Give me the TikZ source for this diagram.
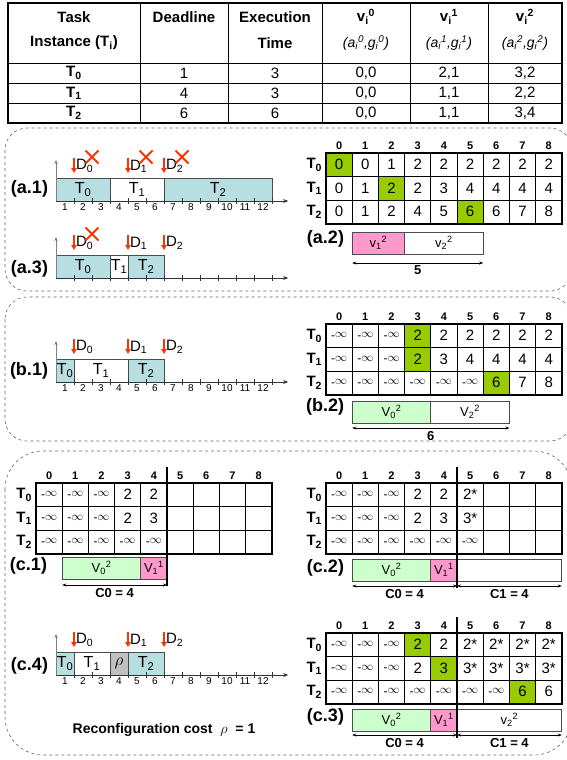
\documentclass[tikz,border=0pt]{standalone}
\usepackage{fontspec}
\setmainfont{Liberation Sans}
\usepackage{xcolor}
\usepackage{tikz}
\usetikzlibrary{arrows.meta,positioning,calc}
\definecolor{taskteal}{HTML}{B7DEE0}
\definecolor{hitgreen}{HTML}{99CC00}
\definecolor{vgreen}{HTML}{CCFFCC}
\definecolor{vpink}{HTML}{FF99CC}
\definecolor{dlred}{HTML}{FF3300}
\definecolor{rhogray}{HTML}{C0C0C0}
\definecolor{framegray}{HTML}{666666}

\newcommand{\fsz}[1]{\fontsize{#1}{#1}\selectfont}
\newcommand{\cellw}{26.2}
\newcommand{\cellh}{23.5}
\newcommand{\ninf}{{\fsz{12}\raisebox{-1.5pt}{-}$\infty$}}
\newcommand{\vsub}[3]{#1\textsubscript{#2}\textsuperscript{#3}}

% schedule helpers (used inside a scope with x = one time unit)
\newcommand{\taskbox}[5]{\node[taskbar, fill=#4, minimum width={(#3-#2)*18pt}, anchor=south west] (#1) at (#2,0) {#5};}
\newcommand{\timeaxes}{%
  \draw[xaxis] (0,0) -- (12.9,0);
  \draw[yaxis] (0,0) -- (0,-41);
  \foreach \k in {1,...,12} \draw[tick] (\k,-3) -- (\k,3);}
\newcommand{\ticklabels}[1]{\foreach \k in {1,...,12} \node[ticklab] (#1k\k) at (\k-0.5,3) {\k};}
\newcommand{\deadline}[3]{%
  \coordinate (#1) at (#2,-28);
  \draw[dlarrow] ([yshift=15pt]#1) -- (#1);
  \node[dlabel] (#1l) at ([xshift=2pt,yshift=7pt]#1) {#3};}
\newcommand{\missed}[1]{\draw[miss] ([xshift=18pt,yshift=16pt]#1) +(-6.5pt,-6.5pt) -- +(6.5pt,6.5pt) +(-6.5pt,6.5pt) -- +(6.5pt,-6.5pt);}

% table helpers
\newcommand{\hit}[4]{\fill[hitgreen] ({#1+#3*\cellw},{#2+#4*\cellh}) rectangle ++(\cellw,\cellh);}
\newcommand{\dpgrid}[3]{%
  \foreach \cc in {0,...,8}
    \node[colnum] (#1h\cc) at ({#2+(\cc+0.5)*\cellw},#3-7) {\cc};
  \foreach \rr in {0,1,2}
    \node[rowlab] (#1t\rr) at (#2-4,{#3+(\rr+0.5)*\cellh}) {T\textsubscript{\rr}};
  \foreach \cc in {1,...,8}
    \draw[gridline] ({#2+\cc*\cellw},#3) -- ++(0,{3*\cellh});
  \foreach \rr in {1,2}
    \draw[gridline] (#2,{#3+\rr*\cellh}) -- ++({9*\cellw},0);
  \draw[gridframe] (#2,#3) rectangle ++({9*\cellw},{3*\cellh});}
\newcommand{\dprow}[5]{%
  \foreach \vv [count=\cc from 0] in {#5}
    \node[val] (#1v#4\cc) at ({#2+(\cc+0.5)*\cellw},{#3+(#4+0.5)*\cellh}) {\vv};}

\begin{document}
\begin{tikzpicture}[
    x=1pt, y=-1pt,
    every node/.style={inner sep=0pt, outer sep=0pt},
    tabframe/.style={draw, line width=1.8pt},
    tabline/.style={draw, line width=0.8pt},
    thead/.style={font=\fsz{15}\bfseries},
    tsub/.style={font=\fsz{14}\itshape},
    tcell/.style={font=\fsz{15}},
    panel/.style={draw=framegray, dashed, line width=0.6pt, rounded corners=22pt},
    taskbar/.style={draw=black!70, line width=0.8pt, minimum height=23pt, font=\fsz{16}},
    xaxis/.style={draw=black!80, line width=0.8pt, -{Stealth[length=5pt,width=4pt]}},
    yaxis/.style={draw=gray, line width=1pt, -{Stealth[length=4pt,width=3.5pt]}},
    tick/.style={draw=black!80, line width=0.8pt},
    ticklab/.style={anchor=north, font=\fsz{10}},
    dlarrow/.style={draw=dlred, line width=1.6pt, -{Triangle[length=5pt,width=5.5pt]}},
    dlabel/.style={anchor=west, font=\fsz{15}},
    miss/.style={draw=dlred, line width=2pt},
    plabel/.style={anchor=east, font=\fsz{18}\bfseries},
    colnum/.style={font=\fsz{11}\bfseries},
    rowlab/.style={anchor=east, font=\fsz{15}\bfseries},
    val/.style={font=\fsz{15}},
    gridline/.style={draw, line width=0.8pt},
    gridframe/.style={draw, line width=2pt},
    divider/.style={draw, line width=2.5pt},
    vbar/.style={draw=black!70, line width=0.8pt, fill=white, minimum height=22pt, font=\fsz{13}, anchor=north west},
    span/.style={draw, line width=0.6pt, {Stealth[length=4pt,width=3pt]}-{Stealth[length=4pt,width=3pt]}},
    spanlab/.style={anchor=north, yshift=-3pt, font=\fsz{13}\bfseries}
]
\useasboundingbox (0,0) rectangle (566,760);

% Task table
\draw[tabframe] (8,3) rectangle (562,123);
\foreach \x in {140,228,322,410,488} \draw[tabline] (\x,3) -- (\x,123);
\foreach \y in {63,83,103} \draw[tabline] (8,\y) -- (562,\y);
\node[thead] (hTask) at (74,17) {Task};
\node[thead] (hInst) at (74,43) {Instance (T\textsubscript{i})};
\node[thead] (hDead) at (184,17) {Deadline};
\node[thead] (hExec) at (275,17) {Execution};
\node[thead] (hTime) at (275,43) {Time};
\node[thead] (hV0) at (366,17) {\vsub{v}{i}{0}};
\node[tsub] (hA0) at (366,43) {(\vsub{a}{i}{0},\vsub{g}{i}{0})};
\node[thead] (hV1) at (449,17) {\vsub{v}{i}{1}};
\node[tsub] (hA1) at (449,43) {(\vsub{a}{i}{1},\vsub{g}{i}{1})};
\node[thead] (hV2) at (525,17) {\vsub{v}{i}{2}};
\node[tsub] (hA2) at (525,43) {(\vsub{a}{i}{2},\vsub{g}{i}{2})};
\foreach \dd/\ee/\va/\vb/\vc [count=\rr from 0] in {1/3/{0,0}/{2,1}/{3,2}, 4/3/{0,0}/{1,1}/{2,2}, 6/6/{0,0}/{1,1}/{3,4}} {
  \node[thead] (rT\rr) at (74,73+20*\rr) {T\textsubscript{\rr}};
  \node[tcell] (rD\rr) at (184,73+20*\rr) {\dd};
  \node[tcell] (rE\rr) at (275,73+20*\rr) {\ee};
  \node[tcell] (rA\rr) at (366,73+20*\rr) {\va};
  \node[tcell] (rB\rr) at (449,73+20*\rr) {\vb};
  \node[tcell] (rC\rr) at (525,73+20*\rr) {\vc};
}

% Panel frames
\draw[panel] (5,128) rectangle (572,291);
\draw[panel] (5,297) rectangle (572,441);
\draw[panel, rounded corners=38pt] (5,451) rectangle (572,755);

% (a.1)
\node[plabel] (la1) at (48,189) {(a.1)};
\begin{scope}[shift={(56,201)}, x=18pt]
  \taskbox{a1t0}{0}{3}{taskteal}{T\textsubscript{0}}
  \taskbox{a1t1}{3}{6}{white}{T\textsubscript{1}}
  \taskbox{a1t2}{6}{12}{taskteal}{T\textsubscript{2}}
  \timeaxes
  \ticklabels{a1}
  \deadline{a1d0}{1}{D\textsubscript{0}}
  \deadline{a1d1}{4}{D\textsubscript{1}}
  \deadline{a1d2}{6}{D\textsubscript{2}}
  \missed{a1d0} \missed{a1d1} \missed{a1d2}
\end{scope}

% (a.3)
\node[plabel] (la3) at (48,269) {(a.3)};
\begin{scope}[shift={(56,278)}, x=18pt]
  \taskbox{a3t0}{0}{3}{taskteal}{T\textsubscript{0}}
  \taskbox{a3t1}{3}{4}{white}{T\textsubscript{1}}
  \taskbox{a3t2}{4}{6}{taskteal}{T\textsubscript{2}}
  \timeaxes
  \deadline{a3d0}{1}{D\textsubscript{0}}
  \deadline{a3d1}{4}{D\textsubscript{1}}
  \deadline{a3d2}{6}{D\textsubscript{2}}
  \missed{a3d0}
\end{scope}

% (a.2)
\hit{326}{153}{0}{0} \hit{326}{153}{2}{1} \hit{326}{153}{5}{2}
\dpgrid{a}{326}{153}
\dprow{a}{326}{153}{0}{0,0,1,2,2,2,2,2,2}
\dprow{a}{326}{153}{1}{0,1,2,2,3,4,4,4,4}
\dprow{a}{326}{153}{2}{0,1,2,4,5,6,6,7,8}
\node[plabel] (la2) at (344,239) {(a.2)};
\node[vbar, fill=vpink, minimum width={2*\cellw*1pt}] (a2v1) at ({326+\cellw},232) {v\textsubscript{1}\textsuperscript{2}};
\node[vbar, minimum width={3*\cellw*1pt}, right=0pt of a2v1] (a2v2) {v\textsubscript{2}\textsuperscript{2}};
\draw[span] ([yshift=-9pt]a2v1.south west) -- ([yshift=-9pt]a2v2.south east) node[spanlab, midway] (a2len) {5};

% (b.1)
\node[plabel] (lb1) at (48,371) {(b.1)};
\begin{scope}[shift={(56,382)}, x=18pt]
  \taskbox{b1t0}{0}{1}{taskteal}{T\textsubscript{0}}
  \taskbox{b1t1}{1}{4}{white}{T\textsubscript{1}}
  \taskbox{b1t2}{4}{6}{taskteal}{T\textsubscript{2}}
  \timeaxes
  \ticklabels{b1}
  \deadline{b1d0}{1}{D\textsubscript{0}}
  \deadline{b1d1}{4}{D\textsubscript{1}}
  \deadline{b1d2}{6}{D\textsubscript{2}}
\end{scope}

% (b.2)
\hit{326}{324}{3}{0} \hit{326}{324}{3}{1} \hit{326}{324}{6}{2}
\dpgrid{b}{326}{324}
\dprow{b}{326}{324}{0}{\ninf,\ninf,\ninf,2,2,2,2,2,2}
\dprow{b}{326}{324}{1}{\ninf,\ninf,\ninf,2,3,4,4,4,4}
\dprow{b}{326}{324}{2}{\ninf,\ninf,\ninf,\ninf,\ninf,\ninf,6,7,8}
\node[plabel] (lb2) at (344,407) {(b.2)};
\node[vbar, fill=vgreen, minimum width={3*\cellw*1pt}] (b2v0) at ({326+\cellw},401) {V\textsubscript{0}\textsuperscript{2}};
\node[vbar, minimum width={3*\cellw*1pt}, right=0pt of b2v0] (b2v2) {V\textsubscript{2}\textsuperscript{2}};
\draw[span] ([yshift=-5pt]b2v0.south west) -- ([yshift=-5pt]b2v2.south east) node[spanlab, midway] (b2len) {6};

% (c.1)
\dpgrid{c1}{36}{483}
\dprow{c1}{36}{483}{0}{\ninf,\ninf,\ninf,2,2}
\dprow{c1}{36}{483}{1}{\ninf,\ninf,\ninf,2,3}
\dprow{c1}{36}{483}{2}{\ninf,\ninf,\ninf,\ninf,\ninf}
\node[plabel] (lc1) at (47,566) {(c.1)};
\node[vbar, fill=vgreen, minimum width={3*\cellw*1pt}] (c1v0) at ({36+\cellw},557) {V\textsubscript{0}\textsuperscript{2}};
\node[vbar, fill=vpink, minimum width={\cellw*1pt}, right=0pt of c1v0] (c1v1) {V\textsubscript{1}\textsuperscript{1}};
\draw[span] ([yshift=-6pt]c1v0.south west) -- ([yshift=-6pt]c1v1.south east) node[spanlab, midway] (c1c0) {C0 = 4};
\draw[divider] ({36+5*\cellw},467) -- ({36+5*\cellw},586);

% (c.2)
\dpgrid{c2}{326}{483}
\dprow{c2}{326}{483}{0}{\ninf,\ninf,\ninf,2,2,2*}
\dprow{c2}{326}{483}{1}{\ninf,\ninf,\ninf,2,3,3*}
\dprow{c2}{326}{483}{2}{\ninf,\ninf,\ninf,\ninf,\ninf,\ninf}
\node[plabel] (lc2) at (344,568) {(c.2)};
\node[vbar, fill=vgreen, minimum width={3*\cellw*1pt}] (c2v0) at ({326+\cellw},559) {V\textsubscript{0}\textsuperscript{2}};
\node[vbar, fill=vpink, minimum width={\cellw*1pt}, right=0pt of c2v0] (c2v1) {V\textsubscript{1}\textsuperscript{1}};
\node[vbar, minimum width={4*\cellw*1pt}, right=0pt of c2v1] (c2v2) {};
\draw[span] ([yshift=-5pt]c2v0.south west) -- ([yshift=-5pt]c2v1.south east) node[spanlab, midway] (c2c0) {C0 = 4};
\draw[span] ([yshift=-5pt]c2v2.south west) -- ([yshift=-5pt]c2v2.south east) node[spanlab, midway] (c2c1) {C1 = 4};
\draw[divider] ({326+5*\cellw},467) -- ({326+5*\cellw},588);

% (c.4)
\node[plabel] (lc4) at (48,666) {(c.4)};
\begin{scope}[shift={(56,675)}, x=18pt]
  \taskbox{c4t0}{0}{1}{taskteal}{T\textsubscript{0}}
  \taskbox{c4t1}{1}{3}{white}{T\textsubscript{1}}
  \taskbox{c4rc}{3}{4}{rhogray}{$\rho$}
  \taskbox{c4t2}{4}{6}{taskteal}{T\textsubscript{2}}
  \timeaxes
  \ticklabels{c4}
  \deadline{c4d0}{1}{D\textsubscript{0}}
  \deadline{c4d1}{4}{D\textsubscript{1}}
  \deadline{c4d2}{6}{D\textsubscript{2}}
\end{scope}
\node[font=\fsz{14}\bfseries] (reconf) at (164,730) {Reconfiguration cost \ $\rho$ \ = 1};

% (c.3)
\hit{326}{633}{3}{0} \hit{326}{633}{4}{1} \hit{326}{633}{7}{2}
\dpgrid{c3}{326}{633}
\dprow{c3}{326}{633}{0}{\ninf,\ninf,\ninf,2,2,2*,2*,2*,2*}
\dprow{c3}{326}{633}{1}{\ninf,\ninf,\ninf,2,3,3*,3*,3*,3*}
\dprow{c3}{326}{633}{2}{\ninf,\ninf,\ninf,\ninf,\ninf,\ninf,\ninf,6,6}
\node[plabel] (lc3) at (344,717) {(c.3)};
\node[vbar, fill=vgreen, minimum width={3*\cellw*1pt}] (c3v0) at ({326+\cellw},709) {V\textsubscript{0}\textsuperscript{2}};
\node[vbar, fill=vpink, minimum width={\cellw*1pt}, right=0pt of c3v0] (c3v1) {V\textsubscript{1}\textsuperscript{1}};
\node[vbar, minimum width={4*\cellw*1pt}, right=0pt of c3v1] (c3v2) {v\textsubscript{2}\textsuperscript{2}};
\draw[span] ([yshift=-4pt]c3v0.south west) -- ([yshift=-4pt]c3v1.south east) node[spanlab, midway] (c3c0) {C0 = 4};
\draw[span] ([yshift=-4pt]c3v2.south west) -- ([yshift=-4pt]c3v2.south east) node[spanlab, midway] (c3c1) {C1 = 4};
\draw[divider] ({326+5*\cellw},617) -- ({326+5*\cellw},738);

\end{tikzpicture}
\end{document}
